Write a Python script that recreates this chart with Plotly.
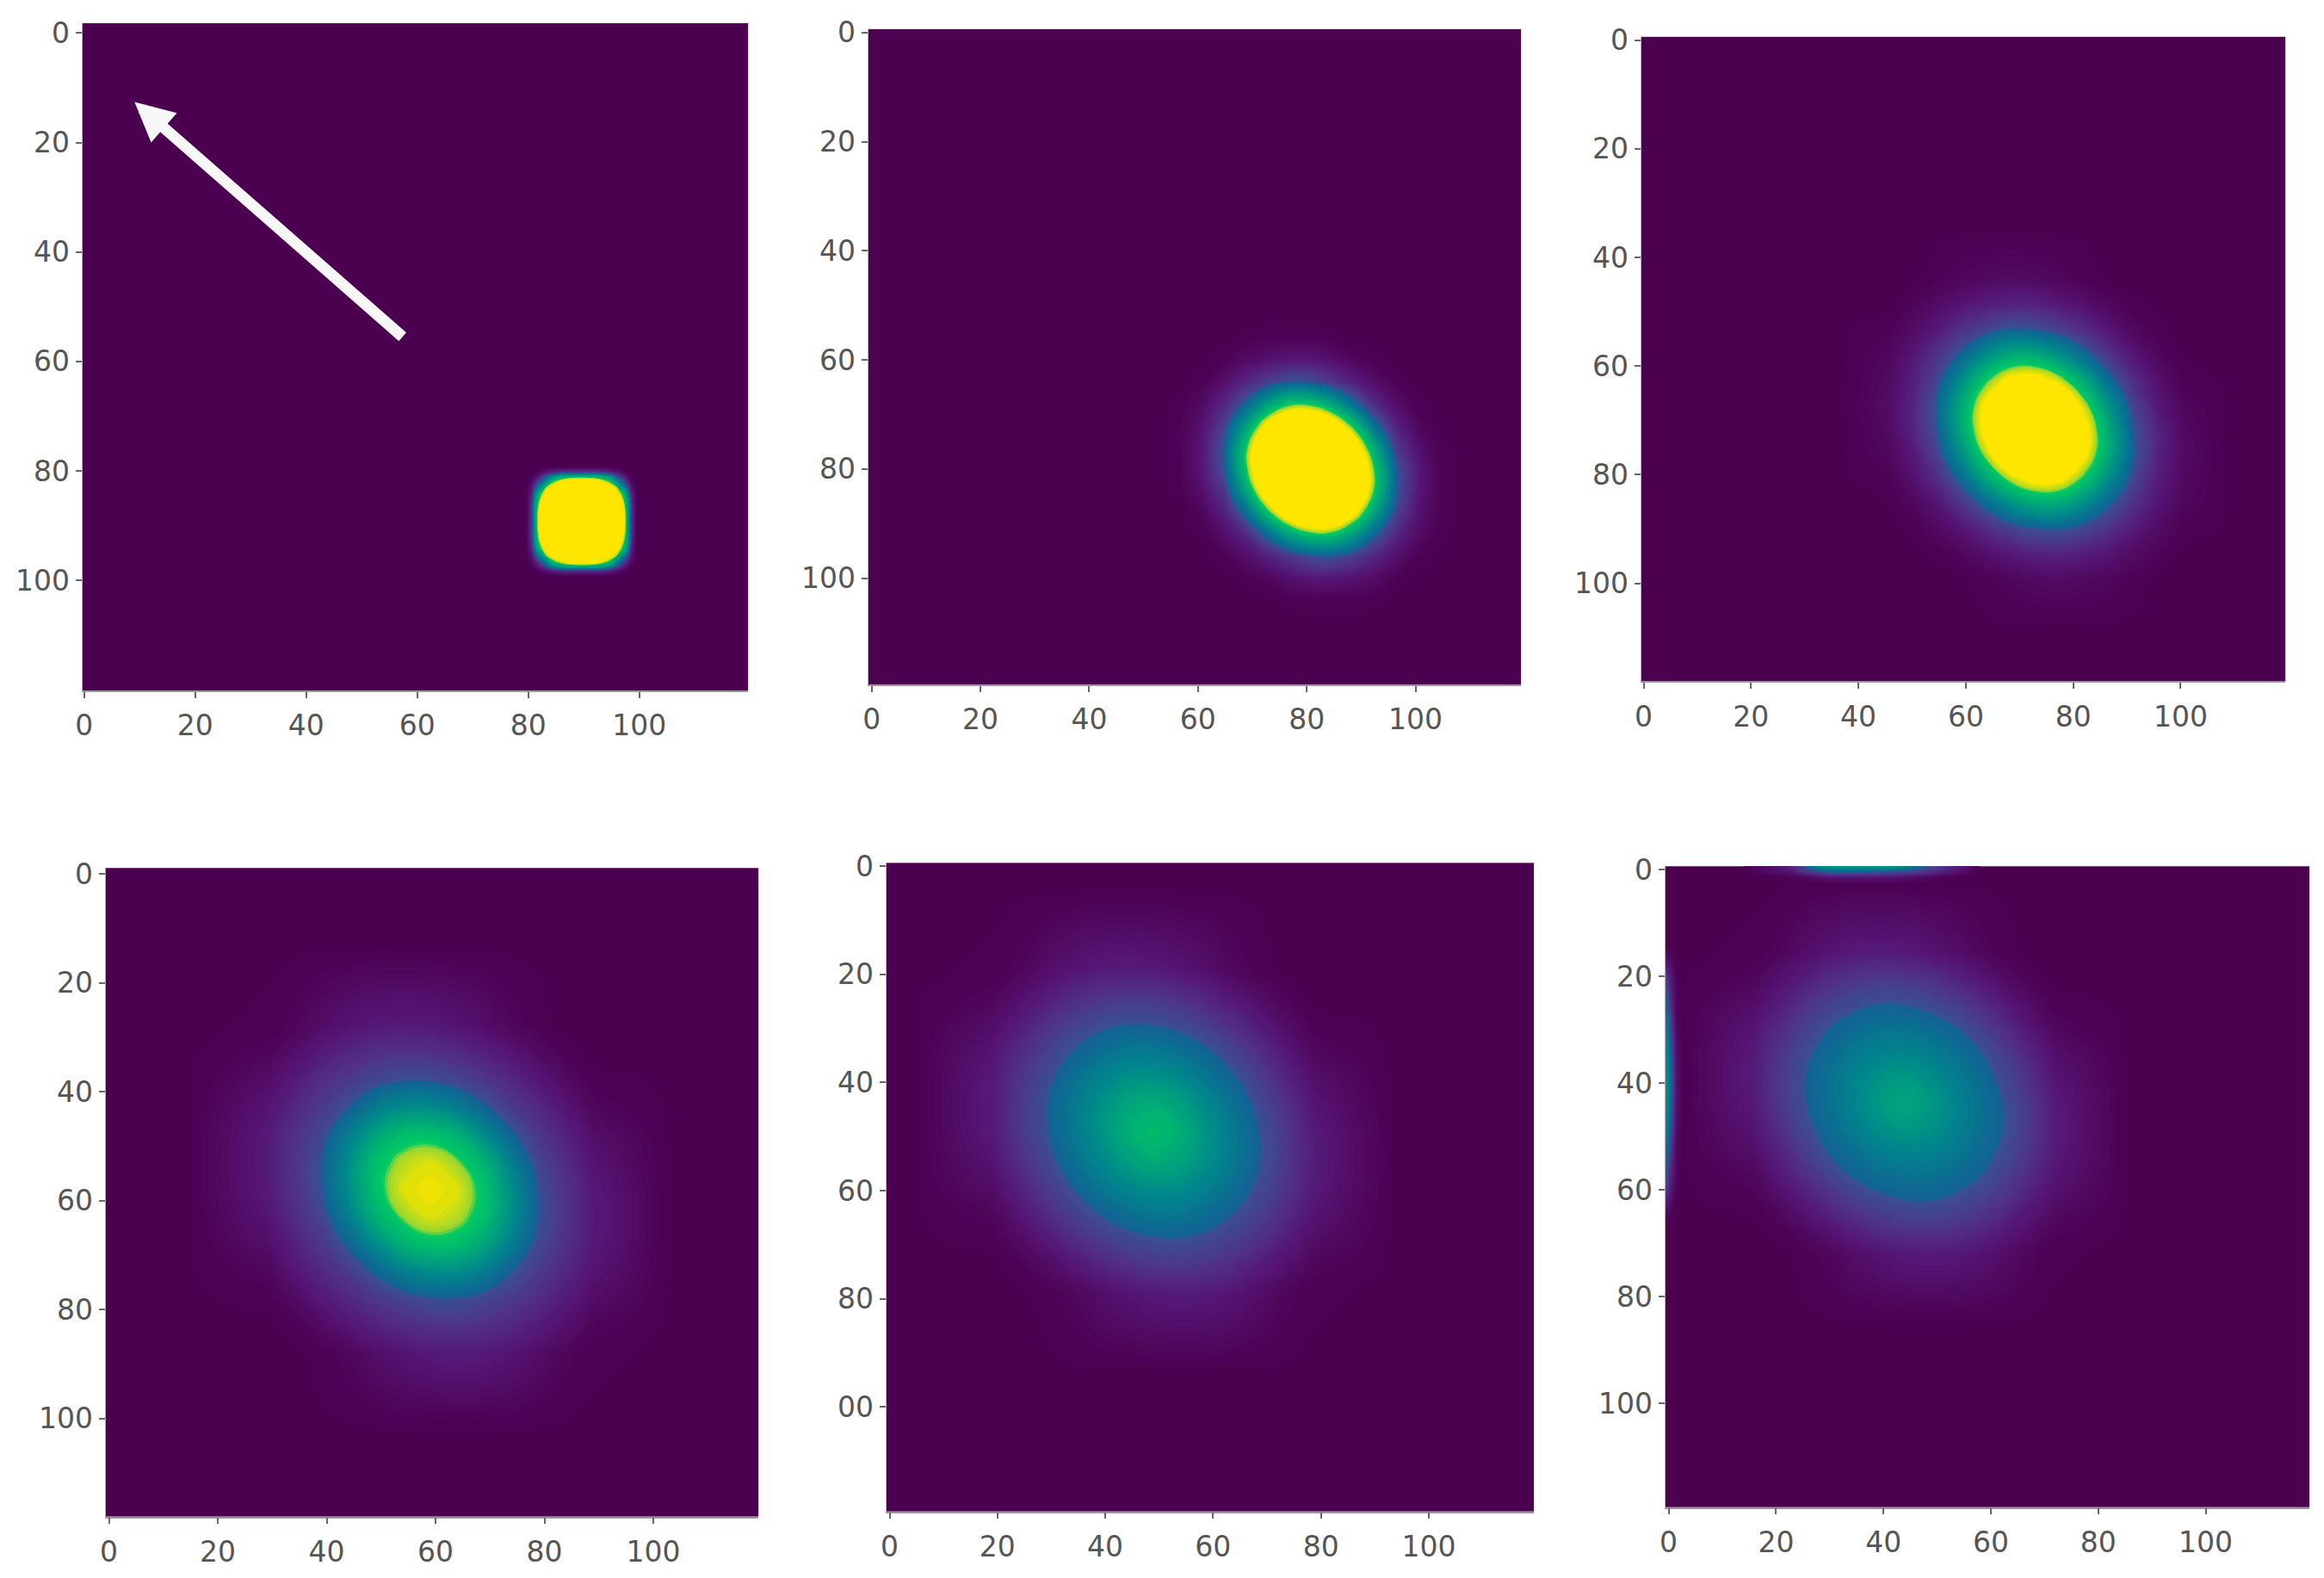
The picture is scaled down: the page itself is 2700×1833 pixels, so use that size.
#############
## IMPORTS ##
#############
import plotly.graph_objects as go

##########
## DATA ##
##########
# Values are colour levels (0 = background, 30 = blue contour, 80+ = yellow)
x_ticks = [0, 20, 40, 60, 80, 100]
y_ticks = [0, 20, 40, 60, 80, 100]
y_labels = ["0", "20", "40", "60", "80", "100"]
y_labels_p5 = ["0", "20", "40", "60", "80", "00"]

p1_x = [79.6, 80.6, 81.6, 82.6, 84.6, 89.6, 94.6, 96.6, 97.6, 98.6, 99.6]
p1_y = [79.2, 80.2, 81.2, 82.2, 84.2, 89.2, 94.2, 96.2, 97.2, 98.2, 99.2]
p1_z = [[0, 0, 0, 0, 0, 0, 0, 0, 0, 0, 0],
        [0, 0, 3, 7, 16, 22, 16, 7, 3, 0, 0],
        [0, 3, 12, 25, 55, 70, 55, 25, 12, 3, 0],
        [0, 7, 25, 40, 75, 100, 75, 40, 25, 7, 0],
        [0, 16, 55, 75, 100, 120, 100, 75, 55, 16, 0],
        [0, 22, 70, 100, 120, 120, 120, 100, 70, 22, 0],
        [0, 16, 55, 75, 100, 120, 100, 75, 55, 16, 0],
        [0, 7, 25, 40, 75, 100, 75, 40, 25, 7, 0],
        [0, 3, 12, 25, 55, 70, 55, 25, 12, 3, 0],
        [0, 0, 3, 7, 16, 22, 16, 7, 3, 0, 0],
        [0, 0, 0, 0, 0, 0, 0, 0, 0, 0, 0]]

p2_x = [52.7, 56.7, 60.7, 64.7, 68.7, 72.7, 76.7, 80.7, 84.7, 88.7, 92.7, 96.7, 100.7, 104.7, 108.7]
p2_y = [52, 56, 60, 64, 68, 72, 76, 80, 84, 88, 92, 96, 100, 104, 108]
p2_z = [[0, 0, 0, 0, 0, 0, 0, 0, 0, 0, 0, 0, 0, 0, 0],
        [0, 0, 0, 0, 1, 2, 2, 2, 1, 0, 0, 0, 0, 0, 0],
        [0, 0, 0, 2, 6, 9, 11, 11, 8, 4, 1, 0, 0, 0, 0],
        [0, 0, 2, 8, 16, 24, 30, 29, 22, 14, 7, 2, 0, 0, 0],
        [0, 1, 6, 16, 32, 53, 67, 67, 55, 35, 17, 7, 1, 0, 0],
        [0, 2, 9, 24, 53, 83, 103, 106, 92, 66, 35, 14, 4, 0, 0],
        [0, 2, 11, 30, 67, 103, 134, 146, 126, 92, 55, 22, 8, 1, 0],
        [0, 2, 11, 29, 67, 106, 146, 185, 146, 106, 67, 29, 11, 2, 0],
        [0, 1, 8, 22, 55, 92, 126, 146, 134, 103, 67, 30, 11, 2, 0],
        [0, 0, 4, 14, 35, 66, 92, 106, 103, 83, 53, 24, 9, 2, 0],
        [0, 0, 1, 7, 17, 35, 55, 67, 67, 53, 32, 16, 6, 1, 0],
        [0, 0, 0, 2, 7, 14, 22, 29, 30, 24, 16, 8, 2, 0, 0],
        [0, 0, 0, 0, 1, 4, 8, 11, 11, 9, 6, 2, 0, 0, 0],
        [0, 0, 0, 0, 0, 0, 1, 2, 2, 2, 1, 0, 0, 0, 0],
        [0, 0, 0, 0, 0, 0, 0, 0, 0, 0, 0, 0, 0, 0, 0]]

p3_x = [36.1, 45.3, 49.9, 54.5, 59.1, 63.7, 68.3, 72.9, 77.5, 82.1, 86.7, 91.3, 95.9, 100.5, 109.7]
p3_y = [34.8, 44, 48.6, 53.2, 57.8, 62.4, 67, 71.6, 76.2, 80.8, 85.4, 90, 94.6, 99.2, 108.4]
p3_z = [[0, 0, 0, 0, 0, 0, 0, 0, 0, 0, 0, 0, 0, 0, 0],
        [0, 0, 0, 2, 4, 5, 6, 5, 4, 2, 0.5, 0, 0, 0, 0],
        [0, 0, 2.5, 6, 10, 13, 15, 15, 11, 8, 4, 1, 0, 0, 0],
        [0, 2, 6, 12, 20, 26, 31, 29.5, 25, 18, 10, 5, 1, 0, 0],
        [0, 4, 10, 20, 32, 47, 57, 57, 48, 34, 21, 10, 4, 0.5, 0],
        [0, 5, 13, 26, 47, 68, 82, 84, 74, 56, 34, 18, 8, 2, 0],
        [0, 6, 15, 31, 57, 82, 103, 112, 98, 74, 48, 25, 11, 4, 0],
        [0, 5, 15, 29.5, 57, 84, 112, 139, 112, 84, 57, 29.5, 15, 5, 0],
        [0, 4, 11, 25, 48, 74, 98, 112, 103, 82, 57, 31, 15, 6, 0],
        [0, 2, 8, 18, 34, 56, 74, 84, 82, 68, 47, 26, 13, 5, 0],
        [0, 0.5, 4, 10, 21, 34, 48, 57, 57, 47, 32, 20, 10, 4, 0],
        [0, 0, 1, 5, 10, 18, 25, 29.5, 31, 26, 20, 12, 6, 2, 0],
        [0, 0, 0, 1, 4, 8, 11, 15, 15, 13, 10, 6, 2.5, 0, 0],
        [0, 0, 0, 0, 0.5, 2, 4, 5, 6, 5, 4, 2, 0, 0, 0],
        [0, 0, 0, 0, 0, 0, 0, 0, 0, 0, 0, 0, 0, 0, 0]]

p4_x = [14, 29, 34, 39, 44, 49, 54, 59, 64, 69, 74, 79, 84, 89, 104]
p4_y = [13, 28, 33, 38, 43, 48, 53, 58, 63, 68, 73, 78, 83, 88, 103]
p4_z = [[0, 0, 0, 0, 0, 0, 0, 0, 0, 0, 0, 0, 0, 0, 0],
        [0, 1, 3.5, 7, 10, 12, 12.5, 12, 10, 7.5, 4, 1.5, 0, 0, 0],
        [0, 3.5, 8, 12.5, 16.5, 19.5, 20.5, 20, 18, 14.5, 10.5, 6, 2, 0, 0],
        [0, 7, 12.5, 18.5, 23, 27, 30, 29.6, 26.3, 22, 17, 11.5, 6, 1.5, 0],
        [0, 10, 16.5, 23, 30.7, 41, 47, 47, 41.5, 32.3, 23.5, 17, 10.5, 4, 0],
        [0, 12, 19.5, 27, 41, 56, 66, 67, 61, 46.5, 32.3, 22, 14.5, 7.5, 0],
        [0, 12.5, 20.5, 30, 47, 66, 74, 77, 72, 61, 41.5, 26.3, 18, 10, 0],
        [0, 12, 20, 29.6, 47, 67, 77, 78, 77, 67, 47, 29.6, 20, 12, 0],
        [0, 10, 18, 26.3, 41.5, 61, 72, 77, 74, 66, 47, 30, 20.5, 12.5, 0],
        [0, 7.5, 14.5, 22, 32.3, 46.5, 61, 67, 66, 56, 41, 27, 19.5, 12, 0],
        [0, 4, 10.5, 17, 23.5, 32.3, 41.5, 47, 47, 41, 30.7, 23, 16.5, 10, 0],
        [0, 1.5, 6, 11.5, 17, 22, 26.3, 29.6, 30, 27, 23, 18.5, 12.5, 7, 0],
        [0, 0, 2, 6, 10.5, 14.5, 18, 20, 20.5, 19.5, 16.5, 12.5, 8, 3.5, 0],
        [0, 0, 0, 1.5, 4, 7.5, 10, 12, 12.5, 12, 10, 7, 3.5, 1, 0],
        [0, 0, 0, 0, 0, 0, 0, 0, 0, 0, 0, 0, 0, 0, 0]]

p5_x = [4, 19, 24, 29, 34, 39, 44, 49, 54, 59, 64, 69, 74, 79, 94]
p5_y = [4, 19, 24, 29, 34, 39, 44, 49, 54, 59, 64, 69, 74, 79, 94]
p5_z = [[0, 0, 0, 0, 0, 0, 0, 0, 0, 0, 0, 0, 0, 0, 0],
        [0, 1, 3.5, 7, 10, 12, 12.5, 12, 10, 7.5, 4, 1.5, 0, 0, 0],
        [0, 3.5, 8, 12.5, 17.4, 20.4, 21.8, 21.4, 19, 15, 10.5, 6, 2, 0, 0],
        [0, 7, 12.5, 19.4, 24.4, 28, 30, 29.6, 27.3, 23.4, 18, 11.5, 6, 1.5, 0],
        [0, 10, 17.4, 24.4, 30.4, 35.7, 39.1, 39.1, 36.1, 31.1, 25, 18, 10.5, 4, 0],
        [0, 12, 20.4, 28, 35.7, 42.9, 47.9, 48.6, 45.2, 38.7, 31.1, 23.4, 15, 7.5, 0],
        [0, 12.5, 21.8, 30, 39.1, 47.9, 56, 60, 54, 45.2, 36.1, 27.3, 19, 10, 0],
        [0, 12, 21.4, 29.6, 39.1, 48.6, 60, 65, 60, 48.6, 39.1, 29.6, 21.4, 12, 0],
        [0, 10, 19, 27.3, 36.1, 45.2, 54, 60, 56, 47.9, 39.1, 30, 21.8, 12.5, 0],
        [0, 7.5, 15, 23.4, 31.1, 38.7, 45.2, 48.6, 47.9, 42.9, 35.7, 28, 20.4, 12, 0],
        [0, 4, 10.5, 18, 25, 31.1, 36.1, 39.1, 39.1, 35.7, 30.4, 24.4, 17.4, 10, 0],
        [0, 1.5, 6, 11.5, 18, 23.4, 27.3, 29.6, 30, 28, 24.4, 19.4, 12.5, 7, 0],
        [0, 0, 2, 6, 10.5, 15, 19, 21.4, 21.8, 20.4, 17.4, 12.5, 8, 3.5, 0],
        [0, 0, 0, 1.5, 4, 7.5, 10, 12, 12.5, 12, 10, 7, 3.5, 1, 0],
        [0, 0, 0, 0, 0, 0, 0, 0, 0, 0, 0, 0, 0, 0, 0]]

p6_x = [1.6, 15.7, 20.4, 25.1, 29.8, 34.5, 39.2, 43.9, 48.6, 53.3, 58, 62.7, 67.4, 72.1, 86.2]
p6_y = [1.3, 15.4, 20.1, 24.8, 29.5, 34.2, 38.9, 43.6, 48.3, 53, 57.7, 62.4, 67.1, 71.8, 85.9]
p6_z = [[0, 0, 0, 0, 0, 0, 0, 0, 0, 0, 0, 0, 0, 0, 0],
        [0, 1, 3.5, 7, 10, 12, 12.5, 12, 10, 7.5, 4, 1.5, 0, 0, 0],
        [0, 3.5, 8, 12.5, 17.4, 20.4, 21.8, 21.4, 19, 15, 10.5, 6, 2, 0, 0],
        [0, 7, 12.5, 19.4, 24.4, 28, 30, 29.6, 27.3, 23.4, 18, 11.5, 6, 1.5, 0],
        [0, 10, 17.4, 24.4, 30.3, 34.2, 36.7, 36.7, 34.5, 30.8, 25, 18, 10.5, 4, 0],
        [0, 12, 20.4, 28, 34.2, 39.5, 43.2, 43.7, 41.2, 36.4, 30.8, 23.4, 15, 7.5, 0],
        [0, 12.5, 21.8, 30, 36.7, 43.2, 49, 52, 47.4, 41.2, 34.5, 27.3, 19, 10, 0],
        [0, 12, 21.4, 29.6, 36.7, 43.7, 52, 56, 52, 43.7, 36.7, 29.6, 21.4, 12, 0],
        [0, 10, 19, 27.3, 34.5, 41.2, 47.4, 52, 49, 43.2, 36.7, 30, 21.8, 12.5, 0],
        [0, 7.5, 15, 23.4, 30.8, 36.4, 41.2, 43.7, 43.2, 39.5, 34.2, 28, 20.4, 12, 0],
        [0, 4, 10.5, 18, 25, 30.8, 34.5, 36.7, 36.7, 34.2, 30.3, 24.4, 17.4, 10, 0],
        [0, 1.5, 6, 11.5, 18, 23.4, 27.3, 29.6, 30, 28, 24.4, 19.4, 12.5, 7, 0],
        [0, 0, 2, 6, 10.5, 15, 19, 21.4, 21.8, 20.4, 17.4, 12.5, 8, 3.5, 0],
        [0, 0, 0, 1.5, 4, 7.5, 10, 12, 12.5, 12, 10, 7, 3.5, 1, 0],
        [0, 0, 0, 0, 0, 0, 0, 0, 0, 0, 0, 0, 0, 0, 0]]

# the two thin streaks along the edges of the last panel
p6_top_x = [14, 22, 28, 36, 44, 50, 58]
p6_top_y = [-1, 0.3, 1.5, 3]
p6_top_z = [[0, 14, 54, 60, 54, 30, 0],
            [0, 10, 30, 34, 28, 18, 0],
            [0, 2, 8, 10, 8, 3, 0],
            [0, 0, 0, 0, 0, 0, 0]]
p6_left_x = [-1, 0.2, 1.5, 3]
p6_left_y = [14, 20, 28, 36, 44, 52, 60, 66]
p6_left_z = [[0, 0, 0, 0],
             [34, 14, 2, 0],
             [50, 28, 4, 0],
             [58, 38, 8, 0],
             [58, 38, 8, 0],
             [50, 28, 4, 0],
             [34, 14, 2, 0],
             [0, 0, 0, 0]]

arrow_tail = [57.6, 55.7]
arrow_tip = [9.1, 12.6]

############
## LAYOUT ##
############
W, H = 2700, 1833
BG = "#4b0050"
COLORS = [[0, BG], [0.1, "rgb(85,20,115)"], [0.2, "rgb(80,50,135)"], [0.2999, "rgb(58,80,148)"],
          [0.30, "rgb(20,95,150)"], [0.45, "rgb(0,135,140)"], [0.70, "rgb(0,200,100)"],
          [0.72, "rgb(150,215,50)"], [0.78, "rgb(235,226,5)"], [0.80, "rgb(255,230,0)"], [1, "rgb(255,230,0)"]]

# plot box in pixels (left, right, top, bottom) and axis ranges of each panel
boxes = [(87, 863, 11, 793), (1003, 1764, 18, 786), (1904, 2655, 27, 782),
         (114, 875, 1001, 1761), (1024, 1779, 995, 1755), (1932, 2683, 999, 1750)]
x_ranges = [(-0.3, 119.6), (-0.63, 119.4), (-0.46, 119.5), (-0.63, 119.3), (-0.63, 119.5), (-0.65, 119.3)]
y_ranges = [(120.1, -1.8), (119.5, -0.63), (118, -0.63), (118, -1.06), (119.3, -0.62), (119.4, -0.63)]
panel_y_labels = [y_labels, y_labels, y_labels, y_labels, y_labels_p5, y_labels]

def add_field(fig, x, y, z, idx):
    # filled contours with smoothing, a level per unit so the bands read as a continuous field
    suffix = "" if idx == 0 else str(idx + 1)
    fig.add_trace(go.Contour(x=x, y=y, z=z, zmin=0, zmax=100, colorscale=COLORS, showscale=False,
                             contours=dict(start=0.5, end=100, size=1, coloring="fill"),
                             line=dict(width=0, smoothing=1.3), hoverinfo="skip",
                             xaxis="x" + suffix, yaxis="y" + suffix))

##########
## MAIN ##
##########
fig = go.Figure()
add_field(fig, p1_x, p1_y, p1_z, 0)
add_field(fig, p2_x, p2_y, p2_z, 1)
add_field(fig, p3_x, p3_y, p3_z, 2)
add_field(fig, p4_x, p4_y, p4_z, 3)
add_field(fig, p5_x, p5_y, p5_z, 4)
add_field(fig, p6_x, p6_y, p6_z, 5)
add_field(fig, p6_top_x, p6_top_y, p6_top_z, 5)
add_field(fig, p6_left_x, p6_left_y, p6_left_z, 5)

tick_font = dict(family="DejaVu Sans", size=33, color="#555555")
axes = {}
for i, (l, r, t, b) in enumerate(boxes):
    suffix = "" if i == 0 else str(i + 1)
    axes["xaxis" + suffix] = dict(domain=[l / W, r / W], range=list(x_ranges[i]), anchor="y" + suffix,
                                  tickvals=x_ticks, ticktext=[str(v) for v in x_ticks], tickfont=tick_font,
                                  ticks="outside", ticklen=7, tickwidth=2, tickcolor="#666666",
                                  ticklabelstandoff=4, showgrid=False, zeroline=False,
                                  showline=True, linecolor="#999999", linewidth=1.5)
    axes["yaxis" + suffix] = dict(domain=[1 - b / H, 1 - t / H], range=list(y_ranges[i]), anchor="x" + suffix,
                                  tickvals=y_ticks, ticktext=panel_y_labels[i], tickfont=tick_font,
                                  ticks="outside", ticklen=7, tickwidth=2, tickcolor="#666666",
                                  showgrid=False, zeroline=False,
                                  showline=True, linecolor="#bbaabb", linewidth=1)

fig.update_layout(width=W, height=H, margin=dict(l=0, r=0, t=0, b=0), paper_bgcolor="white",
                  plot_bgcolor=BG, showlegend=False, **axes)

fig.add_annotation(x=arrow_tip[0], y=arrow_tip[1], ax=arrow_tail[0], ay=arrow_tail[1], xref="x", yref="y",
                   axref="x", ayref="y", text="", showarrow=True, arrowhead=2, arrowsize=0.7, arrowwidth=13,
                   arrowcolor="#f7f7f7")

fig.write_html("out.html", post_script="document.body.style.margin='0';", config=dict(displayModeBar=False))
